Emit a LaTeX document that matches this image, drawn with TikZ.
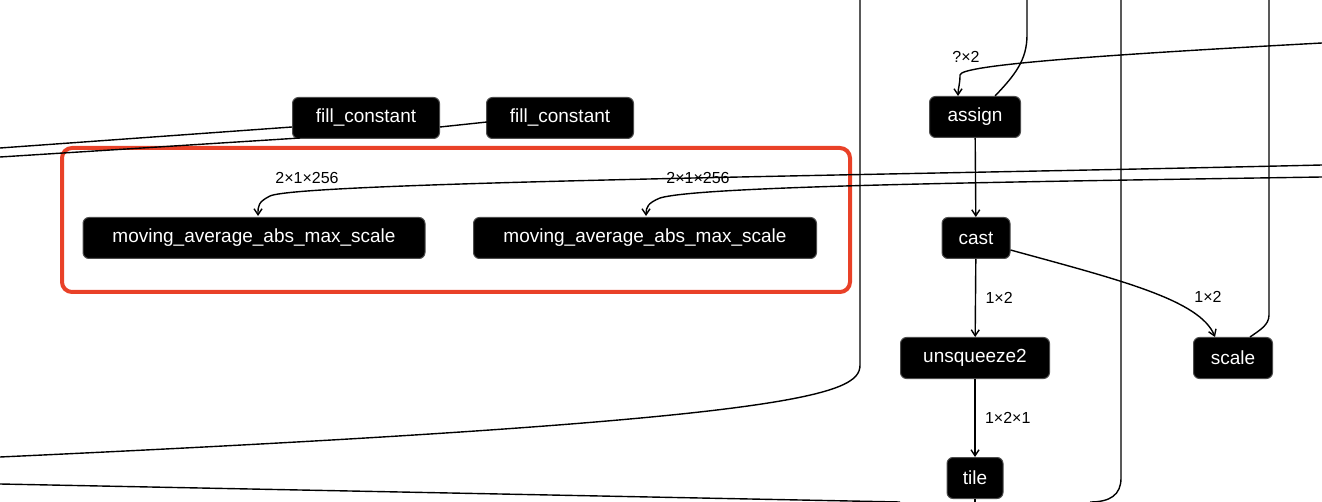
\documentclass[tikz,border=0pt]{standalone}
\usepackage{fontspec}
\setmainfont{Liberation Sans}
\usetikzlibrary{arrows.meta}
\begin{document}
\begin{tikzpicture}[x=1pt,y=-1pt,
  op/.style={draw=black!70,line width=1pt,fill=black,text=white,rounded corners=6pt,inner sep=0pt,minimum height=41pt,font=\fontsize{19}{21}\selectfont},
  lbl/.style={font=\fontsize{16}{18}\selectfont},
  edge/.style={line width=1.4pt},
  arr/.style={edge,-{Straight Barb[length=6pt,width=8pt]}}]
\useasboundingbox (0,0) rectangle (1322,502);
\node[op,minimum width=147pt] (f1) at (366,118) {fill\_constant};
\node[op,minimum width=147pt] (f2) at (560,118) {fill\_constant};
\node[op,minimum width=342pt] (m1) at (254,238) {moving\_average\_abs\_max\_scale};
\node[op,minimum width=343pt] (m2) at (645,238) {moving\_average\_abs\_max\_scale};
\node[op,minimum width=91pt] (as) at (975,117) {assign};
\node[op,minimum width=68pt] (ca) at (976,238) {cast};
\node[op,minimum width=149pt] (un) at (975,358) {unsqueeze2};
\node[op,minimum width=79pt] (sc) at (1233,358) {scale};
\node[op,minimum width=56pt] (ti) at (975,478) {tile};
\draw[draw={rgb,255:red,233;green,65;blue,40},line width=4pt,rounded corners=10pt] (62,148) rectangle (850,292);
% left lines
\coordinate (l1) at (0,148); \coordinate (l2) at (0,157);
\draw[edge] (l1) -- (f1.west|-0,127);
\draw[edge] (l2) -- (300,138);
\draw[edge] (440,127) -- (487,122);
% vertical long lines
\draw[edge] (860,0) -- (860,365) .. controls (860,395) and (800,420) .. (0,457);
\draw[edge] (1121,0) -- (1121,478) .. controls (1121,495) and (1110,502) .. (1090,502);
\draw[edge] (0,484) -- (900,502);
\draw[edge] (1027,0) -- (1027,35) .. controls (1027,60) and (1015,75) .. (995,96);
\draw[edge] (1269,0) -- (1269,315) .. controls (1269,325) and (1260,330) .. (1250,337);
% inputs from right
\draw[arr] (1322,43) .. controls (1100,55) and (960,65) .. (960,75) .. controls (960,85) and (958,88) .. (958,96);
\node[lbl] at (966,57) {?×2};
\draw[arr] (1322,165) .. controls (900,175) and (300,182) .. (270,196) .. controls (258,202) and (258,206) .. (258,216);
\draw[arr] (1322,177) .. controls (1000,182) and (700,186) .. (660,198) .. controls (648,203) and (646,207) .. (646,216);
\node[lbl] at (307,178) {2×1×256};
\node[lbl] at (698,178) {2×1×256};
% right cluster
\draw[arr] (as) -- (ca);
\draw[arr] (ca) -- node[lbl,right=6pt]{1×2} (un);
\draw[arr] (ca.east|-0,250) .. controls (1120,280) and (1200,300) .. (1215,337);
\node[lbl] at (1208,297) {1×2};
\draw[arr] (un) -- node[lbl,right=6pt]{1×2×1} (ti);
\coordinate (tb) at (975,502);
\draw[edge] (ti) -- (tb);
\end{tikzpicture}
\end{document}
